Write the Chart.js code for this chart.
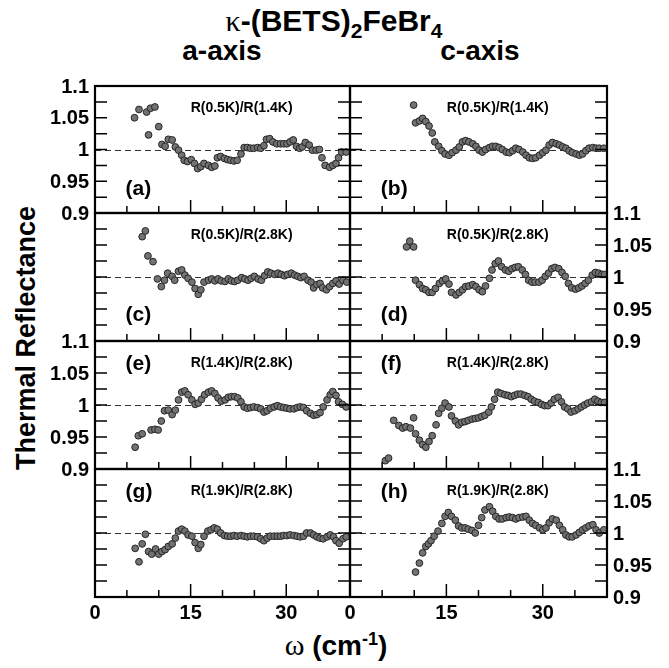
<!DOCTYPE html>
<html>
<head>
<meta charset="utf-8">
<script src="https://cdn.jsdelivr.net/npm/chart.js@4"></script>
<style>
  body { margin: 0; background: #fff; }
  #page { position: relative; width: 669px; height: 668px; overflow: hidden;
          font-family: "Liberation Sans", Arial, sans-serif; font-weight: bold; color: #000; }
  #page canvas { position: absolute; left: 0; top: 0; }
  .txt { position: absolute; white-space: nowrap; transform: translate(-50%, -50%); }
  .serif { font-family: "Liberation Serif", "Times New Roman", serif; font-weight: normal; }
</style>
</head>
<body>
<div id="page">
  <div class="txt" style="left:334px;top:23px;font-size:30px"><span class="serif">κ</span>-(BETS)<sub style="font-size:21px">2</sub>FeBr<sub style="font-size:21px">4</sub></div>
  <div class="txt" style="left:222px;top:51px;font-size:28px">a-axis</div>
  <div class="txt" style="left:480px;top:51px;font-size:28px">c-axis</div>
  <div class="txt" style="left:26px;top:338px;font-size:27px;transform:translate(-50%,-50%) rotate(-90deg)">Thermal Reflectance</div>
  <div class="txt" style="left:336px;top:645px;font-size:28px"><span class="serif" style="font-size:30px">ω</span> (cm<sup style="font-size:18px">-1</sup>)</div>
</div>

<script>
// measured points [omega (cm-1), ratio] for each panel
const panelA = [[6.2,1.050],[6.9,1.063],[8.1,1.059],[8.4,1.023],[8.7,1.065],[9.4,1.067],[10.0,1.036],[10.5,1.008],[11.0,1.005],[11.5,1.016],[12.1,1.015],[12.6,1.004],[13.1,0.999],[13.6,0.991],[14.0,0.983],[14.5,0.981],[15.1,0.984],[15.6,0.978],[16.1,0.970],[16.6,0.973],[17.1,0.978],[17.8,0.975],[18.3,0.972],[18.8,0.974],[19.2,0.987],[19.7,0.989],[20.3,0.986],[20.8,0.984],[21.3,0.983],[21.8,0.982],[22.3,0.983],[22.9,0.993],[23.4,1.003],[23.9,1.003],[24.4,1.002],[24.9,1.002],[25.5,1.003],[26.0,1.002],[26.5,1.006],[26.9,1.016],[27.4,1.017],[27.9,1.012],[28.5,1.009],[29.1,1.009],[29.6,1.009],[30.1,1.009],[30.6,1.012],[31.1,1.015],[31.6,1.005],[32.1,1.002],[32.5,1.004],[33.0,1.011],[33.6,1.007],[34.1,0.999],[34.7,0.999],[35.2,1.000],[35.6,0.987],[36.1,0.975],[36.8,0.972],[37.3,0.975],[37.8,0.978],[38.2,0.987],[38.7,0.996],[39.4,0.996]];
const panelB = [[9.9,1.070],[10.2,1.042],[10.8,1.045],[11.3,1.049],[11.8,1.044],[12.3,1.037],[12.8,1.026],[13.2,1.012],[13.8,1.005],[14.3,0.998],[14.8,0.993],[15.4,0.991],[15.9,0.995],[16.5,0.999],[17.0,1.004],[17.5,1.012],[18.0,1.014],[18.5,1.012],[19.1,1.009],[19.6,1.005],[20.1,0.999],[20.6,0.996],[21.1,1.000],[21.7,1.003],[22.2,1.005],[22.7,1.005],[23.2,1.003],[23.7,1.000],[24.3,0.996],[24.8,0.995],[25.3,0.998],[25.8,1.002],[26.3,1.000],[26.9,0.996],[27.4,0.991],[27.9,0.987],[28.4,0.986],[28.9,0.987],[29.5,0.991],[30.0,0.995],[30.5,0.999],[31.0,1.007],[31.5,1.011],[32.1,1.009],[32.6,1.007],[33.1,1.004],[33.6,1.002],[34.1,0.998],[34.6,0.995],[35.2,0.993],[35.7,0.991],[36.2,0.993],[36.7,0.998],[37.2,1.002],[37.8,1.003],[38.3,1.002],[38.8,1.002],[39.5,1.002]];
const panelC = [[7.4,1.063],[7.9,1.072],[8.3,1.033],[9.1,1.024],[9.8,0.997],[10.4,0.985],[10.9,0.995],[11.4,1.006],[12.1,1.001],[12.5,0.995],[13.1,1.009],[13.6,1.011],[14.1,1.003],[14.6,0.998],[15.2,0.992],[15.7,0.982],[16.2,0.973],[16.6,0.980],[17.1,0.992],[17.8,0.995],[18.3,0.997],[18.8,0.994],[19.3,0.997],[19.8,0.994],[20.4,0.993],[20.9,0.997],[21.4,0.994],[21.9,0.993],[22.4,0.995],[23.0,0.999],[23.5,0.997],[24.0,0.995],[24.5,0.998],[25.0,1.001],[25.6,0.997],[26.1,0.995],[26.6,1.002],[27.1,1.008],[27.6,1.006],[28.2,1.004],[28.7,1.006],[29.2,1.004],[29.7,1.002],[30.2,1.004],[30.8,1.006],[31.3,1.003],[31.8,1.001],[32.3,0.999],[32.8,1.001],[33.4,0.995],[33.9,0.992],[34.3,0.983],[34.8,0.988],[35.3,0.990],[35.7,0.983],[36.3,0.980],[36.8,0.985],[37.3,0.990],[37.8,0.994],[38.3,0.989],[38.9,0.995],[39.5,0.992]];
const panelD = [[8.8,1.047],[9.3,1.056],[9.9,1.047],[10.2,0.995],[10.8,0.988],[11.3,0.982],[11.8,0.980],[12.3,0.976],[12.8,0.976],[13.3,0.982],[13.9,0.990],[14.4,0.994],[14.9,0.997],[15.4,0.989],[15.8,0.976],[16.5,0.972],[17.0,0.976],[17.5,0.980],[18.0,0.985],[18.5,0.986],[19.1,0.988],[19.6,0.985],[20.1,0.980],[20.6,0.977],[21.1,0.986],[21.7,0.998],[22.1,1.011],[22.6,1.021],[23.1,1.025],[23.6,1.016],[24.2,1.011],[24.7,1.009],[25.2,1.013],[25.7,1.015],[26.2,1.016],[26.8,1.011],[27.3,1.004],[27.8,0.995],[28.3,0.992],[28.8,0.992],[29.4,0.992],[29.9,0.995],[30.4,1.001],[30.9,1.006],[31.4,1.013],[31.9,1.015],[32.5,1.013],[33.0,1.007],[33.5,1.001],[34.0,0.990],[34.5,0.983],[35.1,0.981],[35.6,0.983],[36.1,0.986],[36.6,0.990],[37.1,0.995],[37.7,1.003],[38.2,1.007],[38.7,1.006],[39.2,1.004],[39.6,1.004]];
const panelE = [[6.3,0.934],[6.8,0.952],[7.4,0.955],[8.8,0.961],[9.4,0.962],[9.9,0.961],[10.4,0.975],[10.9,0.991],[11.5,0.992],[12.1,0.985],[12.6,0.992],[13.1,1.008],[13.6,1.020],[14.1,1.022],[14.6,1.016],[15.2,1.008],[15.7,1.001],[16.2,1.003],[16.7,1.009],[17.2,1.016],[17.8,1.020],[18.3,1.022],[18.8,1.018],[19.3,1.011],[19.8,1.006],[20.4,1.008],[20.9,1.012],[21.4,1.013],[21.9,1.013],[22.4,1.011],[22.9,1.005],[23.4,0.997],[23.9,0.995],[24.4,0.996],[24.9,0.997],[25.5,0.996],[26.0,0.994],[26.5,0.989],[27.0,0.991],[27.5,0.995],[28.1,0.997],[28.6,0.999],[29.1,0.997],[29.6,0.996],[30.1,0.995],[30.6,0.994],[31.2,0.994],[31.7,0.996],[32.2,0.997],[32.7,0.996],[33.2,0.991],[33.8,0.987],[34.3,0.984],[34.8,0.985],[35.3,0.988],[35.8,0.997],[36.4,1.008],[36.9,1.016],[37.3,1.021],[37.8,1.015],[38.2,1.005],[38.8,1.001],[39.4,0.997]];
const panelF = [[5.5,0.913],[6.0,0.917],[6.8,0.976],[7.6,0.968],[8.2,0.964],[8.7,0.966],[9.4,0.964],[9.9,0.980],[10.2,0.955],[10.8,0.945],[11.3,0.938],[11.8,0.934],[12.3,0.943],[12.8,0.952],[13.4,0.969],[13.8,0.987],[14.3,0.995],[14.8,1.003],[15.4,0.997],[15.8,0.983],[16.4,0.975],[16.9,0.969],[17.4,0.973],[17.9,0.974],[18.4,0.976],[19.0,0.978],[19.5,0.979],[20.0,0.980],[20.5,0.982],[21.0,0.984],[21.6,0.989],[22.0,0.997],[22.5,1.009],[23.0,1.020],[23.5,1.018],[24.1,1.016],[24.6,1.015],[25.1,1.013],[25.6,1.015],[26.1,1.017],[26.6,1.017],[27.2,1.015],[27.7,1.013],[28.2,1.009],[28.7,1.006],[29.3,1.004],[29.8,1.001],[30.3,0.999],[30.8,0.999],[31.3,1.003],[31.8,1.009],[32.4,1.012],[32.9,1.005],[33.4,0.997],[33.9,0.994],[34.4,0.989],[35.0,0.991],[35.5,0.994],[36.0,0.997],[36.5,1.000],[37.0,1.003],[37.6,1.005],[38.1,1.009],[38.6,1.006],[39.1,1.004],[39.6,1.004]];
const panelG = [[6.3,0.976],[6.9,0.955],[7.4,0.983],[7.9,0.998],[8.4,0.971],[8.9,0.967],[9.5,0.975],[10.0,0.967],[10.5,0.971],[11.0,0.974],[11.5,0.979],[12.1,0.983],[12.6,0.992],[13.1,1.003],[13.6,1.006],[14.1,1.003],[14.6,0.997],[15.2,0.995],[15.7,0.985],[16.2,0.976],[16.6,0.982],[17.1,0.995],[17.7,1.003],[18.2,1.005],[18.7,1.008],[19.2,1.006],[19.7,1.000],[20.3,0.996],[20.8,0.995],[21.3,0.995],[21.8,0.996],[22.3,0.995],[22.9,0.996],[23.4,0.995],[23.9,0.994],[24.4,0.995],[24.9,0.995],[25.5,0.994],[26.0,0.991],[26.5,0.988],[27.0,0.992],[27.5,0.995],[28.1,0.995],[28.6,0.995],[29.1,0.995],[29.6,0.996],[30.1,0.996],[30.6,0.997],[31.2,0.996],[31.7,0.995],[32.2,0.994],[32.7,0.995],[33.2,1.000],[33.8,1.000],[34.3,0.997],[34.8,0.994],[35.3,0.992],[35.8,0.991],[36.4,0.994],[36.9,0.997],[37.4,0.994],[37.8,0.988],[38.3,0.984],[38.9,0.991],[39.4,0.994]];
const panelH = [[10.2,0.939],[10.8,0.953],[11.3,0.969],[11.8,0.979],[12.2,0.983],[12.6,0.988],[13.1,0.995],[13.7,1.003],[14.3,1.015],[14.8,1.026],[15.3,1.032],[15.8,1.026],[16.4,1.020],[16.9,1.011],[17.4,1.008],[17.9,1.008],[18.4,1.006],[19.0,1.004],[19.5,1.000],[20.0,1.012],[20.5,1.024],[21.0,1.036],[21.7,1.041],[22.2,1.034],[22.7,1.026],[23.2,1.022],[23.7,1.022],[24.3,1.024],[24.8,1.025],[25.3,1.024],[25.8,1.022],[26.3,1.024],[26.9,1.025],[27.4,1.026],[27.9,1.020],[28.4,1.015],[28.9,1.012],[29.5,1.008],[30.0,1.005],[30.5,1.008],[31.0,1.016],[31.5,1.022],[32.1,1.020],[32.6,1.012],[33.1,1.005],[33.6,0.997],[34.1,0.994],[34.6,0.994],[35.2,0.997],[35.7,1.001],[36.2,1.005],[36.7,1.008],[37.2,1.011],[37.8,1.013],[38.3,1.005],[38.8,1.000],[39.5,1.005]];

const panelTags = ["(a)", "(b)", "(c)", "(d)", "(e)", "(f)", "(g)", "(h)"];
const ratioLabels = ["R(0.5K)/R(1.4K)", "R(0.5K)/R(2.8K)", "R(1.4K)/R(2.8K)", "R(1.9K)/R(2.8K)"];
const xTicks = [5, 10, 15, 20, 25, 30, 35];
const xMajorTicks = [15, 30];
const xTickLabels = [0, 15, 30];
const yTicks = [0.925, 0.95, 0.975, 1, 1.025, 1.05, 1.075];
const yTickLabels = [0.9, 0.95, 1, 1.05, 1.1];

// panel frame edges on the page
const colEdges = [95, 350, 607];
const rowEdges = [86, 213, 341, 469, 597];
const W = 669, H = 668;

const panelFrame = {
  id: "panelFrame",
  beforeDatasetsDraw(chart) {
    const { ctx, chartArea: a, scales: { y } } = chart;
    const py = Math.round(y.getPixelForValue(1)) + 0.5;
    ctx.save();
    ctx.strokeStyle = "#333";
    ctx.lineWidth = 1;
    ctx.setLineDash([6, 4]);
    ctx.beginPath();
    ctx.moveTo(a.left, py);
    ctx.lineTo(a.right, py);
    ctx.stroke();
    ctx.restore();
  },
  afterDraw(chart) {
    const o = chart.options.plugins.panelFrame;
    const { ctx, chartArea: a, scales: { x, y } } = chart;
    ctx.save();
    ctx.strokeStyle = "#000";
    ctx.fillStyle = "#000";

    // ticks, all pointing inwards
    ctx.lineWidth = 1.5;
    ctx.beginPath();
    xTicks.forEach((v) => {
      const px = x.getPixelForValue(v);
      const len = xMajorTicks.includes(v) ? 13 : 7;
      ctx.moveTo(px, a.bottom);
      ctx.lineTo(px, a.bottom - len);
    });
    yTicks.forEach((v) => {
      const py = y.getPixelForValue(v);
      ctx.moveTo(a.left, py);
      ctx.lineTo(a.left + 12, py);
      ctx.moveTo(a.right, py);
      ctx.lineTo(a.right - 12, py);
    });
    ctx.stroke();

    // frame
    ctx.lineWidth = 2.2;
    ctx.strokeRect(a.left, a.top, a.right - a.left, a.bottom - a.top);

    // tick labels
    ctx.font = "bold 20px 'Liberation Sans', Arial, sans-serif";
    if (o.yLabels) {
      ctx.textBaseline = "middle";
      ctx.textAlign = o.yLabels === "left" ? "right" : "left";
      const lx = o.yLabels === "left" ? a.left - 6 : a.right + 6;
      yTickLabels.forEach((v) => ctx.fillText(String(v), lx, y.getPixelForValue(v) + 1));
    }
    if (o.xLabels) {
      ctx.textBaseline = "top";
      ctx.textAlign = "center";
      xTickLabels.forEach((v) => ctx.fillText(String(v), x.getPixelForValue(v), a.bottom + 6));
    }

    // ratio and panel tag
    ctx.textBaseline = "middle";
    ctx.textAlign = "center";
    ctx.font = "bold 14px 'Liberation Sans', Arial, sans-serif";
    ctx.fillText(o.ratio, x.getPixelForValue(23), y.getPixelForValue(1.065));
    ctx.textAlign = "left";
    ctx.font = "bold 21px 'Liberation Sans', Arial, sans-serif";
    ctx.fillText(o.tag, x.getPixelForValue(4.8), y.getPixelForValue(o.tagY));
    ctx.restore();
  }
};

const panels = [
  { data: panelA, col: 0, row: 0, tagY: 0.938, yLabels: "left" },
  { data: panelB, col: 1, row: 0, tagY: 0.938, yLabels: null },
  { data: panelC, col: 0, row: 1, tagY: 0.94, yLabels: null },
  { data: panelD, col: 1, row: 1, tagY: 0.94, yLabels: "right" },
  { data: panelE, col: 0, row: 2, tagY: 1.063, yLabels: "left" },
  { data: panelF, col: 1, row: 2, tagY: 1.063, yLabels: null },
  { data: panelG, col: 0, row: 3, tagY: 1.063, yLabels: null },
  { data: panelH, col: 1, row: 3, tagY: 1.063, yLabels: "right" }
];

const page = document.getElementById("page");
panels.forEach((p, i) => {
  const cv = document.createElement("canvas");
  cv.width = W;
  cv.height = H;
  page.appendChild(cv);

  new Chart(cv, {
    type: "scatter",
    data: {
      datasets: [{
        data: p.data.map(([w, r]) => ({ x: w, y: r })),
        backgroundColor: "#727272",
        borderColor: "#262626",
        borderWidth: 1,
        pointRadius: 3.4,
        clip: 0
      }]
    },
    options: {
      responsive: false,
      animation: false,
      events: [],
      layout: {
        padding: {
          left: colEdges[p.col],
          right: W - colEdges[p.col + 1],
          top: rowEdges[p.row],
          bottom: H - rowEdges[p.row + 1]
        }
      },
      scales: {
        x: { type: "linear", min: 0, max: 40, display: false },
        y: { type: "linear", min: 0.9, max: 1.1, display: false }
      },
      plugins: {
        legend: { display: false },
        tooltip: { enabled: false },
        panelFrame: {
          tag: panelTags[i],
          tagY: p.tagY,
          ratio: ratioLabels[p.row],
          yLabels: p.yLabels,
          xLabels: p.row === 3
        }
      }
    },
    plugins: [panelFrame]
  });
});
</script>
</body>
</html>
